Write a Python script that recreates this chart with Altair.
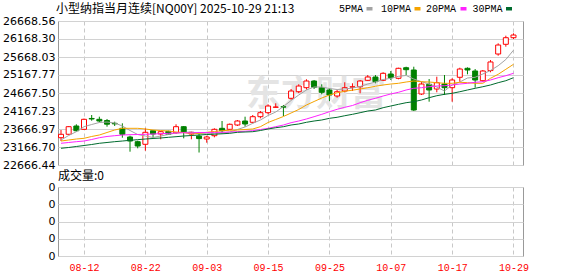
import altair as alt
import pandas as pd

title_text = "小型纳指当月连续[NQ00Y] 2025-10-29 21:13"
volume_title = "成交量:0"
watermark_text = "东方财富"
ma_names = ["5PMA", "10PMA", "20PMA", "30PMA"]
ma_colors = ["#a3a3a3", "#f5a300", "#ff22ff", "#006b2e"]

dates = ["08-07", "08-08", "08-11", "08-12", "08-13", "08-14", "08-15", "08-18", "08-19", "08-20",
         "08-21", "08-22", "08-25", "08-26", "08-27", "08-28", "08-29", "09-01", "09-02", "09-03",
         "09-04", "09-05", "09-08", "09-09", "09-10", "09-11", "09-12", "09-15", "09-16", "09-17",
         "09-18", "09-19", "09-22", "09-23", "09-24", "09-25", "09-26", "09-29", "09-30", "10-01",
         "10-02", "10-03", "10-06", "10-07", "10-08", "10-09", "10-10", "10-13", "10-14", "10-15",
         "10-16", "10-17", "10-20", "10-21", "10-22", "10-23", "10-24", "10-27", "10-28", "10-29"]

opens = [23425, 23520, 23750, 23658, 23960, 23936, 23903, 23825, 23686, 23445,
         23314, 23242, 23619, 23528, 23603, 23564, 23731, 23528, 23470, 23389,
         23481, 23686, 23658, 23778, 23889, 23853, 24009, 24120, 24270, 24285,
         24520, 24703, 24815, 25001, 24815, 24751, 24584, 24723, 24830, 24842,
         25020, 25112, 25020, 25195, 25076, 25370, 25307, 24640, 24909, 24778,
         24917, 24815, 25104, 25354, 25279, 25009, 25290, 25751, 26021, 26204]
highs = [23639, 23745, 23798, 23955, 24056, 24009, 23945, 23870, 23825, 23481,
         23342, 23686, 23639, 23611, 23620, 23798, 23750, 23592, 23547, 23481,
         23686, 23889, 23820, 23917, 24009, 24056, 24167, 24353, 24381, 24334,
         24778, 24909, 25050, 25029, 24909, 24798, 24751, 24965, 24937, 25029,
         25168, 25168, 25243, 25279, 25370, 25398, 25398, 24981, 25056, 25120,
         25168, 25076, 25370, 25380, 25334, 25307, 25584, 26048, 26260, 26326]
lows = [23333, 23510, 23592, 23645, 23897, 23853, 23731, 23750, 23425, 23036,
        23130, 23064, 23425, 23381, 23500, 23528, 23408, 23381, 23013, 23286,
        23436, 23547, 23639, 23750, 23731, 23825, 23964, 24075, 24265, 24028,
        24480, 24665, 24760, 24778, 24631, 24445, 24537, 24687, 24723, 24659,
        25001, 24937, 25001, 25029, 25048, 25168, 24167, 24612, 24426, 24687,
        24612, 24426, 24981, 25187, 24815, 24981, 25243, 25704, 25955, 26168]
closes = [23520, 23731, 23619, 23936, 23945, 23889, 23800, 23810, 23520, 23333,
          23194, 23575, 23528, 23592, 23520, 23731, 23575, 23575, 23400, 23445,
          23658, 23619, 23798, 23889, 23806, 24009, 24120, 24306, 24278, 24275,
          24723, 24862, 25001, 24826, 24687, 24612, 24703, 24815, 24840, 25001,
          25112, 24981, 25215, 25093, 25354, 25315, 24195, 24917, 24751, 24954,
          24815, 25029, 25334, 25307, 25029, 25279, 25530, 26001, 26204, 26279]

ma5 = [23361, 23486, 23592, 23731, 23792, 23848, 23861, 23834, 23750, 23625,
       23514, 23472, 23431, 23472, 23514, 23556, 23570, 23584, 23547, 23547,
       23547, 23556, 23584, 23653, 23723, 23825, 23917, 24042, 24139, 24292,
       24459, 24612, 24751, 24834, 24834, 24792, 24765, 24779, 24806, 24848,
       24917, 24973, 25043, 25076, 25131, 25154, 25056, 24981, 24917, 24834,
       24723, 24890, 24973, 25084, 25104, 25195, 25293, 25426, 25598, 25857]
ma10 = [23333, 23361, 23389, 23408, 23459, 23500, 23570, 23639, 23686, 23686,
        23686, 23667, 23639, 23625, 23611, 23584, 23570, 23528, 23547, 23575,
        23597, 23620, 23631, 23639, 23653, 23667, 23731, 23848, 23931, 24014,
        24112, 24209, 24334, 24431, 24528, 24612, 24673, 24717, 24745, 24779,
        24815, 24854, 24890, 24917, 24937, 24973, 25001, 24981, 24973, 24954,
        24937, 24937, 24965, 24954, 24937, 24937, 25076, 25187, 25326, 25465]
ma20 = [23270, 23292, 23314, 23333, 23375, 23425, 23459, 23481, 23500, 23509,
        23514, 23520, 23528, 23536, 23547, 23556, 23564, 23556, 23570, 23570,
        23572, 23575, 23584, 23592, 23606, 23620, 23653, 23686, 23731, 23778,
        23842, 23889, 23945, 24009, 24075, 24148, 24214, 24270, 24320, 24398,
        24465, 24520, 24584, 24640, 24687, 24751, 24798, 24815, 24842, 24862,
        24870, 24890, 24917, 24937, 24965, 24981, 25029, 25093, 25148, 25215]
ma30 = [23131, 23153, 23181, 23208, 23236, 23270, 23292, 23314, 23333, 23353,
        23370, 23389, 23403, 23417, 23436, 23453, 23472, 23486, 23500, 23514,
        23522, 23534, 23547, 23575, 23584, 23592, 23625, 23667, 23703, 23731,
        23778, 23806, 23853, 23889, 23917, 23964, 23992, 24036, 24075, 24120,
        24167, 24195, 24259, 24306, 24353, 24398, 24426, 24473, 24537, 24592,
        24631, 24659, 24703, 24751, 24798, 24842, 24890, 24954, 25009, 25093]
volumes = [0] * 60

y_ticks = [22666.44, 23166.70, 23666.97, 24167.23, 24667.50, 25167.77, 25668.03, 26168.30, 26668.56]
x_ticks = ["08-12", "08-22", "09-03", "09-15", "09-25", "10-07", "10-17", "10-29"]
vol_ticks = [0, 1, 2, 3, 4]

df = pd.DataFrame({"date": dates, "open": opens, "high": highs, "low": lows, "close": closes})
ma_df = pd.DataFrame({
    "date": dates * 4,
    "ma": [n for n in ma_names for _ in dates],
    "value": ma5 + ma10 + ma20 + ma30,
})
vol_df = pd.DataFrame({"date": dates, "volume": volumes})

RED = "#ff0000"
GREEN = "#008000"
GRID = "#d2d2d2"
VGRID = "#c8c8c8"

xscale = alt.Scale(type="point", domain=dates, padding=0.815, align=0.24, round=False)
x_main = alt.X("date:O", scale=xscale, title=None,
               axis=alt.Axis(values=x_ticks, labels=False, ticks=False, domain=False, grid=True,
                             gridDash=[4, 3], gridColor=VGRID))
yscale = alt.Scale(domain=[y_ticks[0], y_ticks[-1]], nice=False, zero=False)
y_axis = alt.Axis(values=y_ticks, tickCount=len(y_ticks), format=".2f", title=None, ticks=False,
                  domain=False, grid=True, gridColor=GRID, labelFont="DejaVu Sans", labelFontSize=11,
                  labelColor="#000000", labelPadding=3, labelOverlap=False, labelFlush=False,
                  minExtent=55, maxExtent=55)

up = "datum.close >= datum.open"
base = alt.Chart(df).encode(x=x_main)

watermark = alt.Chart(pd.DataFrame({"t": [watermark_text]})).mark_text(
    font="Noto Sans CJK SC", fontSize=35, fontWeight="bold", color="#e4e4e4",
    align="center", baseline="middle").encode(text="t:N", x=alt.value(258), y=alt.value(74))

wick = base.mark_rule(strokeWidth=1).encode(
    y=alt.Y("low:Q", scale=yscale, axis=y_axis),
    y2="high:Q",
    color=alt.condition(up, alt.value(RED), alt.value(GREEN)))
body = base.mark_bar(size=5, strokeWidth=1).encode(
    y=alt.Y("open:Q", scale=yscale, axis=y_axis),
    y2="close:Q",
    fill=alt.condition(up, alt.value("white"), alt.value(GREEN)),
    stroke=alt.condition(up, alt.value(RED), alt.value(GREEN)))
lines = alt.Chart(ma_df).mark_line(strokeWidth=1).encode(
    x=x_main,
    y=alt.Y("value:Q", scale=yscale, axis=y_axis),
    color=alt.Color("ma:N", scale=alt.Scale(domain=ma_names, range=ma_colors), legend=None))

title = alt.Chart(pd.DataFrame({"t": [title_text]})).mark_text(
    font="Noto Sans CJK SC", fontSize=12, color="#000000", align="left", baseline="middle").encode(
    text="t:N", x=alt.value(-2), y=alt.value(-12))

legend_layers = []
text_x = [281, 323, 368, 414.5]
square_x = [308.5, 356.5, 402.5, 448]
for i, name in enumerate(ma_names):
    legend_layers.append(alt.Chart(pd.DataFrame({"t": [name]})).mark_text(
        font="Liberation Mono", fontSize=10, color="#000000", align="left", baseline="middle").encode(
        text="t:N", x=alt.value(text_x[i]), y=alt.value(-12)))
    legend_layers.append(alt.Chart(pd.DataFrame({"t": [name]})).mark_rect(color=ma_colors[i]).encode(
        x=alt.value(square_x[i]), x2=alt.value(square_x[i] + 6),
        y=alt.value(-14), y2=alt.value(-10.5)))

main = alt.layer(watermark, wick, body, lines, title, *legend_layers).properties(width=465, height=144)

x_vol = alt.X("date:O", scale=xscale, title=None,
              axis=alt.Axis(values=x_ticks, ticks=False, domain=False, grid=True, gridDash=[4, 3],
                            gridColor=VGRID, labelColor=RED, labelFont="Liberation Mono",
                            labelFontSize=10, labelPadding=6, labelAngle=0))
vol_bars = alt.Chart(vol_df).mark_bar(color=GREEN).encode(
    x=x_vol,
    y=alt.Y("volume:Q", scale=alt.Scale(domain=[vol_ticks[0], vol_ticks[-1]], nice=False),
            axis=alt.Axis(values=vol_ticks, tickCount=len(vol_ticks), labelExpr="'0'", title=None,
                          ticks=False, domain=False, grid=True, gridColor=GRID, labelFont="DejaVu Sans",
                          labelFontSize=11, labelColor="#000000", labelPadding=3, labelOverlap=False,
                          labelFlush=False, minExtent=55, maxExtent=55)))
vol_title = alt.Chart(pd.DataFrame({"t": [volume_title]})).mark_text(
    font="Noto Sans CJK SC", fontSize=12, color="#000000", align="left", baseline="middle").encode(
    text="t:N", x=alt.value(0), y=alt.value(-11))
vol = alt.layer(vol_bars, vol_title).properties(width=465, height=69)

chart = alt.vconcat(main, vol, spacing=22, bounds="flush").properties(
    padding={"left": 2, "top": 2, "right": 0, "bottom": 0},
    background="white",
).configure_view(stroke="#999999", strokeWidth=1)

chart.save("out.html", embed_options={"renderer": "svg", "actions": False})
